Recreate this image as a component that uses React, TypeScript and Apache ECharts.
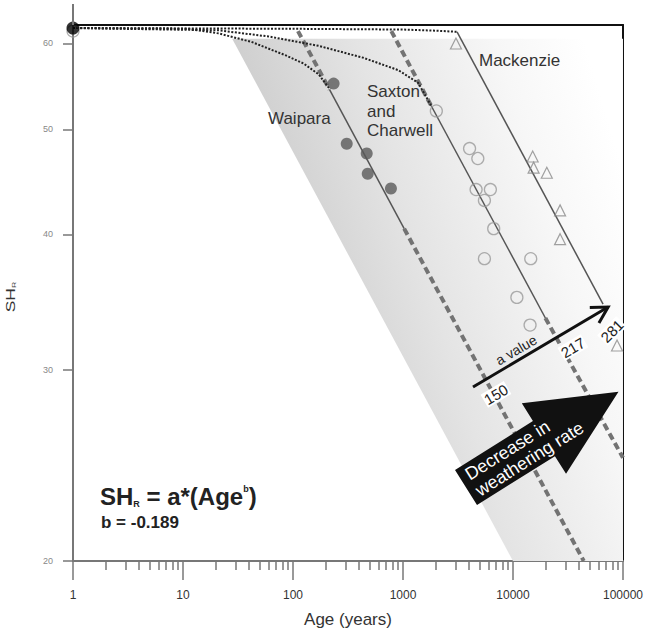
import React, { useEffect, useRef } from 'react';
import * as echarts from 'echarts';

const FONT = '"Liberation Sans", Arial, Helvetica, sans-serif';

// ---- axes ----
const ageMin = 1;
const ageMax = 100000;
const shMin = 20;
const shMax = 62.4;
const ageTickLabels = [1, 10, 100, 1000, 10000, 100000];
const ageMinorTicks = [
  2, 3, 4, 5, 6, 7, 8, 9,
  20, 30, 40, 50, 60, 70, 80, 90,
  200, 300, 400, 500, 600, 700, 800, 900,
  2000, 3000, 4000, 5000, 6000, 7000, 8000, 9000,
  20000, 30000, 40000, 50000, 60000, 70000, 80000, 90000,
];
const shTickLabels = [20, 30, 40, 50, 60];

// ---- measured data ----
const freshAge = [1];
const freshSH = [62.0];
const freshOpenAge = [1];
const freshOpenSH = [61.6];

const waiparaAge = [234, 308, 468, 478, 777];
const waiparaSH = [55.1, 48.5, 47.5, 45.5, 44.1];

const saxtonAge = [2010, 4030, 4790, 4620, 6230, 5500, 6680, 5500, 14500, 10850, 14300];
const saxtonSH = [52.0, 48.0, 47.0, 44.0, 44.0, 43.0, 40.5, 38.0, 38.0, 35.0, 33.0];

const mackenzieAge = [3030, 15100, 15400, 20300, 26800, 26800, 88300];
const mackenzieSH = [60.0, 47.2, 46.1, 45.6, 42.1, 39.6, 31.6];

// ---- fitted power-law lines (a = 150, 217, 281) ----
const aValueLabels = ['150', '217', '281'];
const waiparaUpperAge = [111, 215];
const waiparaUpperSH = [61.6, 54.4];
const waiparaFitAge = [215, 1025];
const waiparaFitSH = [54.4, 40.5];
const waiparaLowerAge = [1025, 44000];
const waiparaLowerSH = [40.5, 20.0];

const saxtonUpperAge = [783, 1800];
const saxtonUpperSH = [61.6, 52.6];
const saxtonFitAge = [1800, 19700];
const saxtonFitSH = [52.6, 33.5];
const saxtonLowerAge = [19700, 100000];
const saxtonLowerSH = [33.5, 24.9];

const mackenzieFitAge = [3100, 65900];
const mackenzieFitSH = [61.5, 34.5];

// ---- dotted early-age curves ----
const curve1Age = [1, 11, 21, 42, 86, 125, 171, 215];
const curve1SH = [62.0, 61.9, 61.3, 60.2, 58.5, 57.5, 56.2, 54.5];
const curve2Age = [1, 21, 60, 171, 437, 905, 1372, 1800];
const curve2SH = [62.0, 61.7, 60.9, 59.7, 58.2, 56.7, 55.2, 52.6];
const curve3Age = [1, 100, 1000, 2000, 3100];
const curve3SH = [62.0, 61.9, 61.8, 61.65, 61.5];

// ---- shaded band ----
const bandAge = [28, 100000, 100000, 10000];
const bandSH = [60.6, 60.6, 20, 20];

const pairs = (xs: number[], ys: number[]) => xs.map((x, i) => [x, ys[i]]);

function lineSeries(xs: number[], ys: number[], style: any, z = 3) {
  return {
    type: 'line',
    xAxisIndex: 0,
    yAxisIndex: 0,
    data: pairs(xs, ys),
    showSymbol: false,
    symbol: 'none',
    silent: true,
    z,
    lineStyle: style,
  };
}

// rotate a local point (lx along the direction, ly perpendicular, screen-down side) around (cx, cy)
function rot(cx: number, cy: number, deg: number, lx: number, ly: number): number[] {
  const a = (deg * Math.PI) / 180;
  const c = Math.cos(a);
  const s = Math.sin(a);
  return [cx + lx * c + ly * s, cy - lx * s + ly * c];
}

export default function App() {
  const ref = useRef<HTMLDivElement>(null);

  useEffect(() => {
    if (!ref.current) return;
    const chart = echarts.init(ref.current, undefined, { renderer: 'svg' });

    const solid = { color: '#555', width: 1.5, type: 'solid' };
    const dashed = { color: '#737373', width: 4, type: [7, 4] };
    const dotted = { color: '#222', width: 2, type: [2, 1.6] };

    const bandFill = new echarts.graphic.LinearGradient(0, 0, 0.774, -0.312, [
      { offset: 0, color: '#cfcfcf' },
      { offset: 0.35, color: '#e4e4e4' },
      { offset: 0.75, color: '#f7f7f7' },
      { offset: 1, color: '#ffffff' },
    ]);

    // "a value" arrow geometry
    const avX = 473, avY = 387, avAng = 30.6, avLen = 157;
    const avStart = rot(avX, avY, avAng, 0, 0);
    const avEnd = rot(avX, avY, avAng, avLen, 0);
    const avHead = [rot(avX, avY, avAng, avLen - 16, -9), avEnd, rot(avX, avY, avAng, avLen - 16, 9)];
    const avText = rot(avX, avY, avAng, 56, -3);
    const av150 = rot(avX, avY, avAng, 16, 18);
    const av217 = rot(avX, avY, avAng, 106, 17);
    const avR = (avAng * Math.PI) / 180;

    // big arrow geometry
    const baX = 466, baY = 487.5, baAng = 32.1;
    const baLocal = [[0, -20.7], [92, -20.7], [92, -41.6], [180, 0], [92, 41.6], [92, 20.7], [0, 20.7]];
    const baPts = baLocal.map((p) => rot(baX, baY, baAng, p[0], p[1]));
    const baText = rot(baX, baY, baAng, 7, 0);
    const baR = (baAng * Math.PI) / 180;

    const labelStyle = {
      fontSize: 15, fontFamily: FONT, fill: '#222', textAlign: 'center', textVerticalAlign: 'middle',
      backgroundColor: '#fff', padding: [0, 1],
    };

    const option: any = {
      animation: false,
      backgroundColor: '#ffffff',
      grid: { left: 73, right: 20, top: 25, bottom: 72, containLabel: false },
      xAxis: [
        {
          type: 'log',
          logBase: 10,
          min: ageMin,
          max: ageMax,
          position: 'bottom',
          axisLine: { show: true, lineStyle: { color: '#777', width: 2 } },
          axisTick: { show: true, length: 19, lineStyle: { color: '#777', width: 1.5 } },
          axisLabel: {
            show: true,
            margin: 28,
            fontSize: 12,
            color: '#333',
            fontFamily: FONT,
            formatter: (v: number) => {
              const r = Math.round(v);
              return ageTickLabels.includes(r) ? String(r) : '';
            },
          },
          splitLine: { show: false },
          name: 'Age (years)',
          nameLocation: 'middle',
          nameGap: 50,
          nameTextStyle: { fontSize: 17, color: '#333', fontFamily: FONT },
        },
        {
          type: 'value',
          min: Math.log10(ageMin),
          max: Math.log10(ageMax),
          position: 'bottom',
          axisLine: { show: false },
          axisTick: {
            show: true,
            length: 9,
            customValues: ageMinorTicks.map((v) => Math.log10(v)),
            lineStyle: { color: '#777', width: 1.5 },
          },
          axisLabel: { show: false },
          splitLine: { show: false },
        },
        {
          type: 'log',
          logBase: 10,
          min: ageMin,
          max: ageMax,
          position: 'top',
          axisLine: { show: true, lineStyle: { color: '#111', width: 2 } },
          axisTick: { show: false },
          axisLabel: { show: false },
          splitLine: { show: false },
        },
      ],
      yAxis: [
        {
          type: 'log',
          logBase: 10,
          min: shMin,
          max: shMax,
          position: 'left',
          axisLine: { show: true, lineStyle: { color: '#777', width: 2 } },
          axisTick: { show: false },
          axisLabel: { show: false },
          splitLine: { show: false },
        },
        {
          type: 'value',
          min: Math.log10(shMin),
          max: Math.log10(shMax),
          position: 'left',
          axisLine: { show: false },
          axisTick: {
            show: true,
            length: 10,
            customValues: shTickLabels.map((v) => Math.log10(v)),
            lineStyle: { color: '#777', width: 1.5 },
          },
          axisLabel: {
            show: true,
            customValues: shTickLabels.map((v) => Math.log10(v)),
            formatter: (v: number) => String(Math.round(Math.pow(10, v))),
            fontSize: 9,
            color: '#888',
            margin: 20,
            fontFamily: FONT,
          },
          splitLine: { show: false },
        },
        {
          type: 'log',
          logBase: 10,
          min: shMin,
          max: shMax,
          position: 'right',
          axisLine: { show: true, lineStyle: { color: '#111', width: 2 } },
          axisTick: { show: false },
          axisLabel: { show: false },
          splitLine: { show: false },
        },
      ],
      series: [
        {
          type: 'custom',
          xAxisIndex: 0,
          yAxisIndex: 0,
          silent: true,
          z: 1,
          data: pairs(bandAge, bandSH),
          renderItem: (params: any, api: any) => {
            if (params.dataIndex !== 0) return null;
            const pts = bandAge.map((a, i) => api.coord([a, bandSH[i]]));
            return { type: 'polygon', shape: { points: pts }, style: { fill: bandFill } };
          },
        },
        lineSeries(waiparaUpperAge, waiparaUpperSH, dashed),
        lineSeries(waiparaLowerAge, waiparaLowerSH, dashed),
        lineSeries(saxtonUpperAge, saxtonUpperSH, dashed),
        lineSeries(saxtonLowerAge, saxtonLowerSH, dashed),
        lineSeries(waiparaFitAge, waiparaFitSH, solid),
        lineSeries(saxtonFitAge, saxtonFitSH, solid),
        lineSeries(mackenzieFitAge, mackenzieFitSH, solid),
        lineSeries(curve1Age, curve1SH, dotted, 4),
        lineSeries(curve2Age, curve2SH, dotted, 4),
        lineSeries(curve3Age, curve3SH, dotted, 4),
        {
          type: 'scatter',
          name: 'Waipara',
          data: pairs(waiparaAge, waiparaSH),
          symbol: 'circle',
          symbolSize: 12,
          itemStyle: { color: '#5a5a5a' },
          z: 5,
        },
        {
          type: 'scatter',
          name: 'Saxton and Charwell',
          data: pairs(saxtonAge, saxtonSH),
          symbol: 'circle',
          symbolSize: 12,
          itemStyle: { color: 'rgba(255,255,255,0)', borderColor: '#9a9a9a', borderWidth: 1.3 },
          z: 5,
        },
        {
          type: 'scatter',
          name: 'Mackenzie',
          data: pairs(mackenzieAge, mackenzieSH),
          symbol: 'triangle',
          symbolSize: 11,
          itemStyle: { color: 'rgba(255,255,255,0)', borderColor: '#8a8a8a', borderWidth: 1.2 },
          z: 5,
        },
        {
          type: 'scatter',
          data: pairs(freshOpenAge, freshOpenSH),
          symbol: 'circle',
          symbolSize: 12,
          clip: false,
          itemStyle: { color: 'rgba(255,255,255,0)', borderColor: '#9a9a9a', borderWidth: 1.3 },
          z: 5,
        },
        {
          type: 'scatter',
          data: pairs(freshAge, freshSH),
          symbol: 'circle',
          symbolSize: 13,
          clip: false,
          itemStyle: { color: '#000' },
          z: 6,
        },
      ],
      graphic: [
        { type: 'line', shape: { x1: 73, y1: 4, x2: 73, y2: 25 }, style: { stroke: '#777', lineWidth: 2 }, z: 10 },
        {
          type: 'text', x: 11, y: 297, rotation: Math.PI / 2, scaleX: 1.45, z: 10,
          style: {
            text: '{m|SH}{s|R}',
            textAlign: 'center', textVerticalAlign: 'middle',
            rich: {
              m: { fontSize: 12, fontFamily: FONT, fill: '#333' },
              s: { fontSize: 6, fontFamily: FONT, fill: '#333', verticalAlign: 'bottom', padding: [5, 0, 0, 0] },
            },
          },
        },
        { type: 'text', x: 268, y: 110, z: 10, style: { text: 'Waipara', fontSize: 17, fontFamily: FONT, fill: '#333', textVerticalAlign: 'top' } },
        { type: 'text', x: 367, y: 82, z: 10, style: { text: 'Saxton\nand\nCharwell', fontSize: 17, lineHeight: 19.5, fontFamily: FONT, fill: '#333', textVerticalAlign: 'top' } },
        { type: 'text', x: 479, y: 52, z: 10, style: { text: 'Mackenzie', fontSize: 17, fontFamily: FONT, fill: '#333', textVerticalAlign: 'top' } },
        {
          type: 'text', x: 100, y: 484, z: 10,
          style: {
            text: '{m|SH}{s|R}{m| = a*(Age}{p|b}{m|)}',
            textVerticalAlign: 'top',
            rich: {
              m: { fontSize: 24, fontWeight: 'bold', fontFamily: FONT, fill: '#222' },
              s: { fontSize: 9, fontWeight: 'bold', fontFamily: FONT, fill: '#222', verticalAlign: 'bottom', padding: [10, 0, 0, 0] },
              p: { fontSize: 9, fontWeight: 'bold', fontFamily: FONT, fill: '#222', verticalAlign: 'top' },
            },
          },
        },
        { type: 'text', x: 101, y: 514, z: 10, style: { text: 'b = -0.189', fontSize: 17, fontWeight: 'bold', fontFamily: FONT, fill: '#222', textVerticalAlign: 'top' } },
        // "a value" arrow
        { type: 'line', z: 20, shape: { x1: avStart[0], y1: avStart[1], x2: avEnd[0], y2: avEnd[1] }, style: { stroke: '#111', lineWidth: 3 } },
        { type: 'polyline', z: 20, shape: { points: avHead }, style: { stroke: '#111', lineWidth: 3, fill: null } },
        { type: 'text', z: 20, x: avText[0], y: avText[1], rotation: avR, style: { text: 'a value', fontSize: 14, fontFamily: FONT, fill: '#222', textAlign: 'center', textVerticalAlign: 'bottom' } },
        { type: 'text', z: 20, x: av150[0], y: av150[1], rotation: avR, style: { text: aValueLabels[0], ...labelStyle } },
        { type: 'text', z: 20, x: av217[0], y: av217[1], rotation: avR, style: { text: aValueLabels[1], ...labelStyle } },
        { type: 'text', z: 20, x: 612, y: 331, rotation: (45 * Math.PI) / 180, style: { text: aValueLabels[2], ...labelStyle } },
        // big arrow
        { type: 'polygon', z: 20, shape: { points: baPts }, style: { fill: '#111' } },
        {
          type: 'text', z: 21, x: baText[0], y: baText[1], rotation: baR,
          style: { text: 'Decrease in\nweathering rate', fontSize: 18, lineHeight: 19, fontFamily: FONT, fill: '#fff', textAlign: 'left', textVerticalAlign: 'middle' },
        },
      ],
    };

    chart.setOption(option);
    return () => chart.dispose();
  }, []);

  return (
    <div
      ref={ref}
      style={{ position: 'fixed', left: 0, top: 0, width: 646, height: 633, background: '#fff' }}
    />
  );
}
